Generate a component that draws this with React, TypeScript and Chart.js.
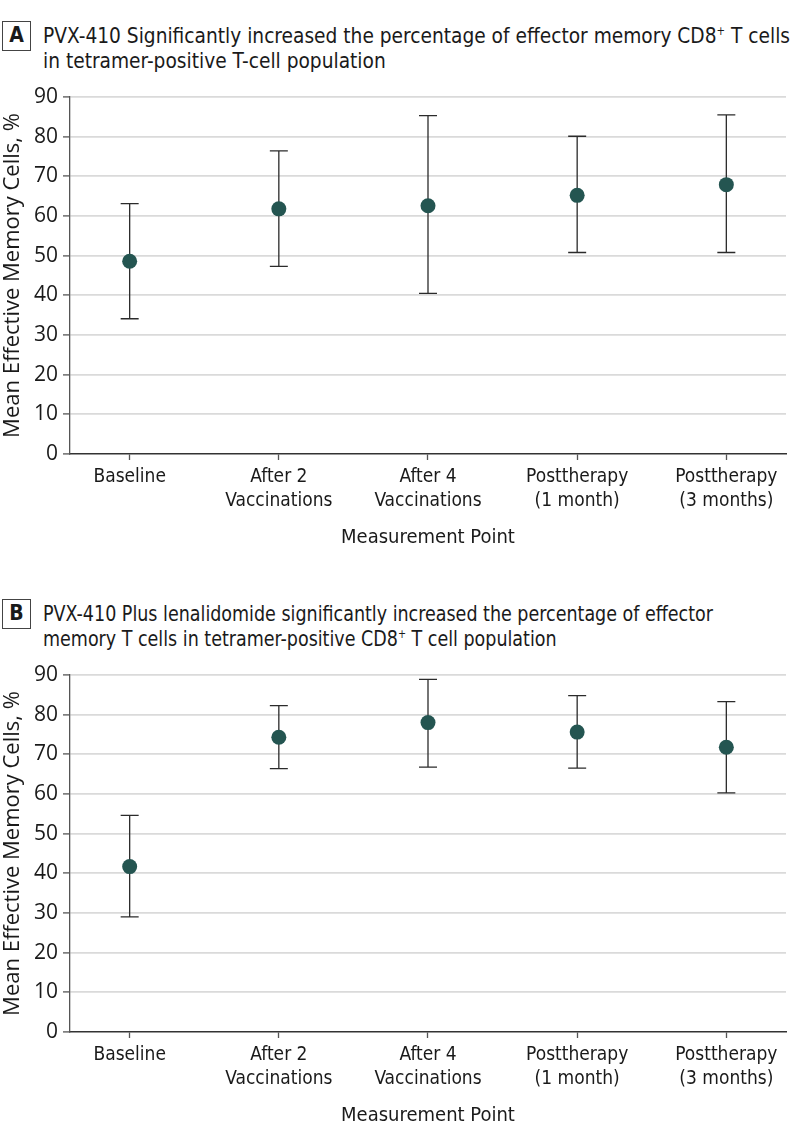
import React, { useEffect, useLayoutEffect, useRef } from "react";
import { Chart, registerables } from "chart.js";

Chart.register(...registerables);

// ---- Data ----
const categories: string[][] = [
  ["Baseline"],
  ["After 2", "Vaccinations"],
  ["After 4", "Vaccinations"],
  ["Posttherapy", "(1 month)"],
  ["Posttherapy", "(3 months)"],
];

const meanA = [48.6, 61.8, 62.6, 65.2, 67.9];
const lowerA = [34.1, 47.3, 40.5, 50.8, 50.8];
const upperA = [63.1, 76.4, 85.3, 80.1, 85.5];

const meanB = [41.7, 74.3, 78.0, 75.6, 71.8];
const lowerB = [29.0, 66.4, 66.8, 66.5, 60.3];
const upperB = [54.6, 82.3, 88.9, 84.8, 83.3];

const yMin = 0;
const yMax = 90;
const yStep = 10;

const xTitle = "Measurement Point";
const yTitle = "Mean Effective Memory Cells, %";

// ---- Styles ----
const NARROW = '"Liberation Sans Narrow", "DejaVu Sans Condensed", "Roboto Condensed", "Open Sans", sans-serif';
const WIDE = '"Open Sans", "DejaVu Sans", sans-serif';
const MARKER = "#245551";
const BAR = "#2b2b2b";
const GRID = "#dadada";
const AXIS = "#555555";
const TEXT = "#1a1a1a";

const errorBarPlugin = {
  id: "errorBars",
  beforeDatasetsDraw(chart: any, _args: any, opts: any) {
    const { ctx, scales } = chart;
    const x = scales.x;
    const y = scales.y;
    const lo: number[] = opts.lower || [];
    const hi: number[] = opts.upper || [];
    ctx.save();
    ctx.strokeStyle = BAR;
    ctx.lineWidth = 1.3;
    lo.forEach((l, i) => {
      const px = x.getPixelForValue(i);
      const yl = y.getPixelForValue(l);
      const yh = y.getPixelForValue(hi[i]);
      ctx.beginPath();
      ctx.moveTo(px, yl);
      ctx.lineTo(px, yh);
      ctx.moveTo(px - 9, yl);
      ctx.lineTo(px + 9, yl);
      ctx.moveTo(px - 9, yh);
      ctx.lineTo(px + 9, yh);
      ctx.stroke();
    });
    ctx.restore();
  },
};

function Panel({ means, lowers, uppers, top }: { means: number[]; lowers: number[]; uppers: number[]; top: number }) {
  const ref = useRef<HTMLCanvasElement | null>(null);
  useEffect(() => {
    if (!ref.current) return;
    const chart = new Chart(ref.current, {
      type: "scatter",
      data: {
        datasets: [
          {
            data: means.map((m, i) => ({ x: i, y: m })),
            backgroundColor: MARKER,
            borderWidth: 0,
            pointRadius: 7.5,
            pointHoverRadius: 7.5,
            showLine: false,
          },
        ],
      },
      options: {
        responsive: false,
        animation: false,
        layout: { padding: { top: 37, right: 12, bottom: 0, left: 0 } },
        plugins: {
          legend: { display: false },
          tooltip: { enabled: false },
          errorBars: { lower: lowers, upper: uppers },
        } as any,
        scales: {
          x: {
            type: "linear",
            position: "bottom",
            min: -0.4,
            max: 4.4,
            afterFit: (s: any) => {
              s.height = 106;
            },
            ticks: {
              stepSize: 1,
              includeBounds: false,
              autoSkip: false,
              maxRotation: 0,
              minRotation: 0,
              padding: 5,
              color: TEXT,
              font: { family: NARROW, size: 19, lineHeight: 1.25 },
              callback: (v: any) => (Number.isInteger(v) && categories[v] ? categories[v] : ""),
            },
            grid: {
              drawOnChartArea: false,
              drawTicks: true,
              tickLength: 6,
              tickColor: AXIS,
              tickWidth: 1.3,
            },
            border: { color: "#333333", width: 1.5 },
            title: {
              display: true,
              text: xTitle,
              color: TEXT,
              font: { family: NARROW, size: 20, lineHeight: 1.2 },
              padding: { top: 0, bottom: 10 },
            },
          },
          y: {
            min: yMin,
            max: yMax,
            afterFit: (s: any) => {
              s.width = 70;
            },
            ticks: {
              stepSize: yStep,
              padding: 5,
              color: TEXT,
              font: { family: WIDE, size: 21 },
            },
            grid: {
              color: (c: any) => (c.tick && c.tick.value === 0 ? "rgba(0,0,0,0)" : GRID),
              lineWidth: 1.8,
              drawTicks: true,
              tickLength: 7,
              tickColor: AXIS,
              tickWidth: 1.3,
            },
            border: { color: AXIS, width: 1.3 },
            title: {
              display: true,
              text: yTitle,
              color: TEXT,
              font: { family: WIDE, size: 22, lineHeight: 1.2 },
              padding: { top: 0, bottom: 0 },
            },
          },
        },
      },
      plugins: [errorBarPlugin],
    } as any);
    return () => chart.destroy();
  }, [means, lowers, uppers]);
  return (
    <canvas
      ref={ref}
      width={798}
      height={500}
      style={{ position: "absolute", left: 0, top, width: 798, height: 500, display: "block" }}
    />
  );
}

function Heading({
  letter,
  lines,
  top,
  targetWidth,
}: {
  letter: string;
  lines: React.ReactNode[];
  top: number;
  targetWidth: number;
}) {
  const blockRef = useRef<HTMLDivElement | null>(null);
  const firstRef = useRef<HTMLSpanElement | null>(null);
  useLayoutEffect(() => {
    if (!blockRef.current || !firstRef.current) return;
    const w = firstRef.current.getBoundingClientRect().width;
    if (w > 0) blockRef.current.style.transform = `scaleX(${targetWidth / w})`;
  }, [targetWidth]);
  return (
    <>
      <div
        style={{
          position: "absolute",
          left: 2,
          top: top - 2,
          width: 29,
          height: 30,
          boxSizing: "border-box",
          border: "1.5px solid #444",
          fontFamily: NARROW,
          fontWeight: "bold",
          fontSize: 21,
          lineHeight: "27px",
          textAlign: "center",
          color: TEXT,
        }}
      >
        {letter}
      </div>
      <div
        ref={blockRef}
        style={{
          position: "absolute",
          left: 43,
          top,
          fontFamily: NARROW,
          fontSize: 22,
          lineHeight: "25px",
          color: TEXT,
          whiteSpace: "nowrap",
          transformOrigin: "0 0",
        }}
      >
        {lines.map((l, i) => (
          <div key={i}>
            <span ref={i === 0 ? firstRef : undefined}>{l}</span>
          </div>
        ))}
      </div>
    </>
  );
}

const sup = (t: string) => <sup style={{ fontSize: "0.55em", lineHeight: 0, verticalAlign: "0.7em" }}>{t}</sup>;

export default function App() {
  return (
    <div style={{ position: "absolute", left: 0, top: 0, width: 798, height: 1141, background: "#fff" }}>
      <Heading
        letter="A"
        top={23}
        targetWidth={747}
        lines={[
          <>PVX-410 Significantly increased the percentage of effector memory CD8{sup("+")} T cells</>,
          <>in tetramer-positive T-cell population</>,
        ]}
      />
      <Panel means={meanA} lowers={lowerA} uppers={upperA} top={60} />
      <Heading
        letter="B"
        top={601}
        targetWidth={670}
        lines={[
          <>PVX-410 Plus lenalidomide significantly increased the percentage of effector</>,
          <>memory T cells in tetramer-positive CD8{sup("+")} T cell population</>,
        ]}
      />
      <Panel means={meanB} lowers={lowerB} uppers={upperB} top={638} />
    </div>
  );
}
